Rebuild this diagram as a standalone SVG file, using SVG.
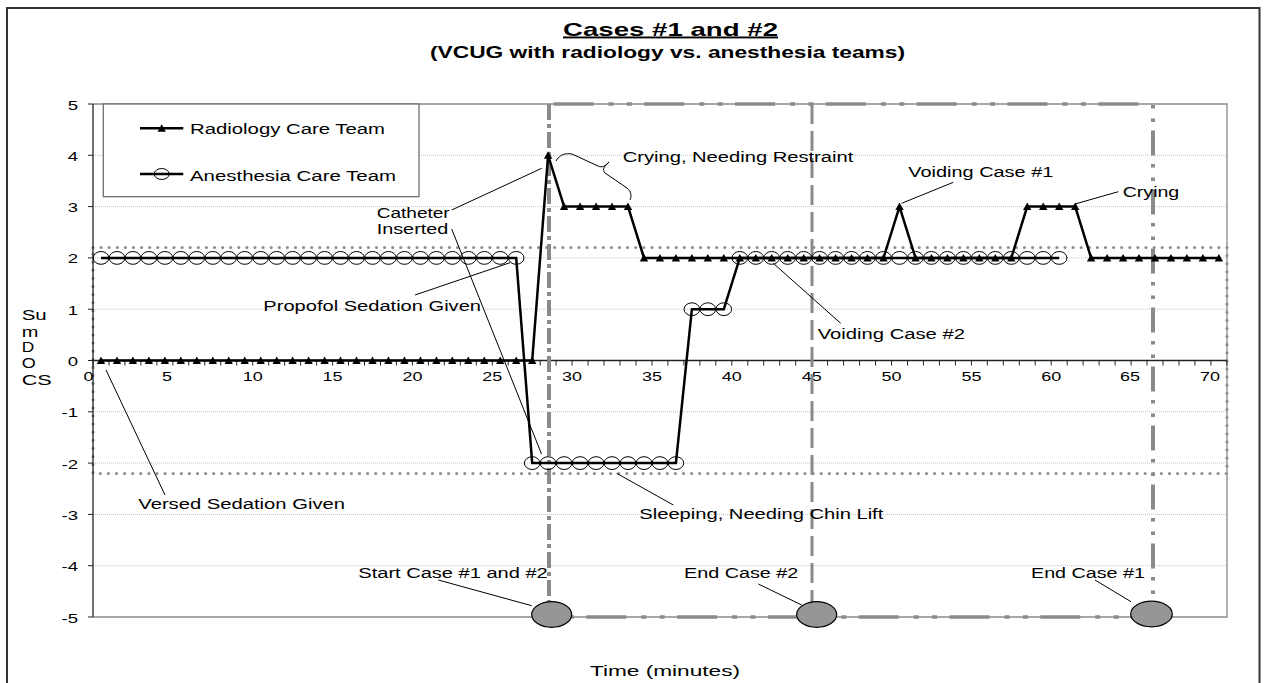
<svg xmlns="http://www.w3.org/2000/svg" width="1265" height="683" viewBox="0 0 1265 683">
<style>
text{font-family:"Liberation Sans",Arial,Helvetica,sans-serif;fill:#000}
.lbl{font-size:14px}
.tk{font-size:13px}
.grid{stroke:#c4c4c4;stroke-width:1;stroke-dasharray:1 1;fill:none}
.border{stroke:#8a8a8a;stroke-width:1.3;fill:none}
.axis{stroke:#222;stroke-width:1.3;fill:none}
.tick{stroke:#222;stroke-width:1}
.call{stroke:#000;stroke-width:1;fill:none}
.series{stroke:#000;stroke-width:2.5;fill:none;stroke-linejoin:miter}
.case{stroke:#8a8a8a;fill:none}
.marker-ell{fill:#969696;stroke:#000;stroke-width:1.2}
</style>
<defs>
<marker id="tri" viewBox="-5 -5 10 10" markerWidth="10" markerHeight="10" refX="0" refY="0" markerUnits="userSpaceOnUse" orient="0" overflow="visible"><path d="M0,-4 L4.2,3.5 L-4.2,3.5 Z" fill="#000"/></marker>
<marker id="circ" viewBox="-9 -9 18 18" markerWidth="18" markerHeight="18" refX="0" refY="0" markerUnits="userSpaceOnUse" orient="0" overflow="visible"><ellipse cx="0" cy="0" rx="7.8" ry="6.4" fill="none" stroke="#000" stroke-width="1"/></marker>
</defs>
<rect width="1265" height="683" fill="#fff"/>
<g id="frame"><rect x="7" y="8" width="1252.5" height="690" fill="none" stroke="#333" stroke-width="2"/></g>

<g id="title">
<text x="670.5" y="35.5" text-anchor="middle" font-size="19" font-weight="bold" text-decoration="underline" textLength="215" lengthAdjust="spacingAndGlyphs">Cases #1 and #2</text>
<text x="667.5" y="58" text-anchor="middle" font-size="16" font-weight="bold" textLength="475" lengthAdjust="spacingAndGlyphs">(VCUG with radiology vs. anesthesia teams)</text>
</g>

<g id="gridlines">
<line class="grid" x1="93" y1="155.3" x2="1227" y2="155.3"/>
<line class="grid" x1="93" y1="206.6" x2="1227" y2="206.6"/>
<line class="grid" x1="93" y1="257.9" x2="1227" y2="257.9"/>
<line class="grid" x1="93" y1="309.2" x2="1227" y2="309.2"/>
<line class="grid" x1="93" y1="411.8" x2="1227" y2="411.8"/>
<line class="grid" x1="93" y1="463.1" x2="1227" y2="463.1"/>
<line class="grid" x1="93" y1="514.4" x2="1227" y2="514.4"/>
<line class="grid" x1="93" y1="565.7" x2="1227" y2="565.7"/>
</g>

<g id="plot-border"><path class="border" d="M93,104 H1227 V617 H93"/></g>

<g id="dotted-band"><rect x="93" y="247.5" width="1134" height="226" fill="none" stroke="#8f8f8f" stroke-width="3.2" stroke-dasharray="0 8.1" stroke-linecap="round"/></g>

<g id="axes">
<line class="axis" x1="93" y1="104" x2="93" y2="617"/>
<line class="axis" x1="93" y1="360.5" x2="1227" y2="360.5"/>
<path class="tick" d="M88,104H93M88,155.3H93M88,206.6H93M88,257.9H93M88,309.2H93M88,360.5H93M88,411.8H93M88,463.1H93M88,514.4H93M88,565.7H93M88,617H93"/>
<path class="tick" d="M93,360.5v5M109,360.5v5M124.9,360.5v5M140.9,360.5v5M156.9,360.5v5M172.9,360.5v5M188.8,360.5v5M204.8,360.5v5M220.8,360.5v5M236.7,360.5v5M252.7,360.5v5M268.7,360.5v5M284.6,360.5v5M300.6,360.5v5M316.6,360.5v5M332.6,360.5v5M348.5,360.5v5M364.5,360.5v5M380.5,360.5v5M396.4,360.5v5M412.4,360.5v5M428.4,360.5v5M444.3,360.5v5M460.3,360.5v5M476.3,360.5v5M492.3,360.5v5M508.2,360.5v5M524.2,360.5v5M540.2,360.5v5M556.1,360.5v5M572.1,360.5v5M588.1,360.5v5M604,360.5v5M620,360.5v5M636,360.5v5M652,360.5v5M667.9,360.5v5M683.9,360.5v5M699.9,360.5v5M715.8,360.5v5M731.8,360.5v5M747.8,360.5v5M763.7,360.5v5M779.7,360.5v5M795.7,360.5v5M811.7,360.5v5M827.6,360.5v5M843.6,360.5v5M859.6,360.5v5M875.5,360.5v5M891.5,360.5v5M907.5,360.5v5M923.4,360.5v5M939.4,360.5v5M955.4,360.5v5M971.4,360.5v5M987.3,360.5v5M1003.3,360.5v5M1019.3,360.5v5M1035.2,360.5v5M1051.2,360.5v5M1067.2,360.5v5M1083.1,360.5v5M1099.1,360.5v5M1115.1,360.5v5M1131.1,360.5v5M1147,360.5v5M1163,360.5v5M1179,360.5v5M1194.9,360.5v5M1210.9,360.5v5M1226.9,360.5v5"/>
<g class="tk" text-anchor="end">
<text x="78" y="109.5" textLength="10.3" lengthAdjust="spacingAndGlyphs">5</text>
<text x="78" y="160.8" textLength="10.3" lengthAdjust="spacingAndGlyphs">4</text>
<text x="78" y="212.1" textLength="10.3" lengthAdjust="spacingAndGlyphs">3</text>
<text x="78" y="263.4" textLength="10.3" lengthAdjust="spacingAndGlyphs">2</text>
<text x="78" y="314.7" textLength="10.3" lengthAdjust="spacingAndGlyphs">1</text>
<text x="78" y="366" textLength="10.3" lengthAdjust="spacingAndGlyphs">0</text>
<text x="78" y="417.3" textLength="16.5" lengthAdjust="spacingAndGlyphs">-1</text>
<text x="78" y="468.6" textLength="16.5" lengthAdjust="spacingAndGlyphs">-2</text>
<text x="78" y="519.9" textLength="16.5" lengthAdjust="spacingAndGlyphs">-3</text>
<text x="78" y="571.2" textLength="16.5" lengthAdjust="spacingAndGlyphs">-4</text>
<text x="78" y="622.5" textLength="16.5" lengthAdjust="spacingAndGlyphs">-5</text>
</g>
<g class="tk" text-anchor="middle">
<text x="88.5" y="380.5" textLength="10" lengthAdjust="spacingAndGlyphs">0</text>
<text x="167" y="380.5" textLength="10" lengthAdjust="spacingAndGlyphs">5</text>
<text x="252.7" y="380.5" textLength="20" lengthAdjust="spacingAndGlyphs">10</text>
<text x="332.6" y="380.5" textLength="20" lengthAdjust="spacingAndGlyphs">15</text>
<text x="412.4" y="380.5" textLength="20" lengthAdjust="spacingAndGlyphs">20</text>
<text x="492.3" y="380.5" textLength="20" lengthAdjust="spacingAndGlyphs">25</text>
<text x="572.1" y="380.5" textLength="20" lengthAdjust="spacingAndGlyphs">30</text>
<text x="652" y="380.5" textLength="20" lengthAdjust="spacingAndGlyphs">35</text>
<text x="731.8" y="380.5" textLength="20" lengthAdjust="spacingAndGlyphs">40</text>
<text x="811.7" y="380.5" textLength="20" lengthAdjust="spacingAndGlyphs">45</text>
<text x="891.5" y="380.5" textLength="20" lengthAdjust="spacingAndGlyphs">50</text>
<text x="971.4" y="380.5" textLength="20" lengthAdjust="spacingAndGlyphs">55</text>
<text x="1051.2" y="380.5" textLength="20" lengthAdjust="spacingAndGlyphs">60</text>
<text x="1130" y="380.5" textLength="20" lengthAdjust="spacingAndGlyphs">65</text>
<text x="1210" y="380.5" textLength="20" lengthAdjust="spacingAndGlyphs">70</text>
</g>
<g class="lbl">
<text x="21.7" y="320" textLength="25" lengthAdjust="spacingAndGlyphs">Su</text>
<text x="21.7" y="336.5" textLength="16.7" lengthAdjust="spacingAndGlyphs">m</text>
<text x="21.7" y="352" textLength="12.5" lengthAdjust="spacingAndGlyphs">D</text>
<text x="21.7" y="368" textLength="14" lengthAdjust="spacingAndGlyphs">O</text>
<text x="21.7" y="384.5" textLength="30" lengthAdjust="spacingAndGlyphs">CS</text>
<text x="590" y="676" textLength="150" lengthAdjust="spacingAndGlyphs">Time (minutes)</text>
</g>
</g>

<g id="case-lines">
<line class="case" x1="549" y1="104" x2="549" y2="603" stroke-width="4" stroke-dasharray="16 4 4 4"/>
<line class="case" x1="549" y1="104" x2="1153" y2="104" stroke-width="3.5" stroke-dasharray="40 15 5 13.4 5 12.4" stroke-dashoffset="86.3"/>
<line class="case" x1="549" y1="617" x2="1153" y2="617" stroke-width="3.5" stroke-dasharray="40 15 5 13.4 5 12.4" stroke-dashoffset="53.5"/>
<line class="case" x1="1153" y1="104" x2="1153" y2="603" stroke-width="4" stroke-dasharray="25 8.5 3.5 10 3.5 8.5" stroke-dashoffset="32.5"/>
<line class="case" x1="812" y1="104" x2="812" y2="603" stroke-width="3" stroke-dasharray="20 7"/>
</g>

<g id="anesthesia-series">
<polyline class="series" marker-start="url(#circ)" marker-mid="url(#circ)" marker-end="url(#circ)" points="101,257.9 117,257.9 132.9,257.9 148.9,257.9 164.9,257.9 180.8,257.9 196.8,257.9 212.8,257.9 228.7,257.9 244.7,257.9 260.7,257.9 276.7,257.9 292.6,257.9 308.6,257.9 324.6,257.9 340.5,257.9 356.5,257.9 372.5,257.9 388.4,257.9 404.4,257.9 420.4,257.9 436.4,257.9 452.3,257.9 468.3,257.9 484.3,257.9 500.2,257.9 516.2,257.9 532.2,463.1 548.1,463.1 564.1,463.1 580.1,463.1 596.1,463.1 612,463.1 628,463.1 644,463.1 659.9,463.1 675.9,463.1 691.9,309.2 707.8,309.2 723.8,309.2 739.8,257.9 755.8,257.9 771.7,257.9 787.7,257.9 803.7,257.9 819.6,257.9 835.6,257.9 851.6,257.9 867.5,257.9 883.5,257.9 899.5,257.9 915.5,257.9 931.4,257.9 947.4,257.9 963.4,257.9 979.3,257.9 995.3,257.9 1011.3,257.9 1027.2,257.9 1043.2,257.9 1059.2,257.9"/>
</g>

<g id="radiology-series">
<polyline class="series" marker-start="url(#tri)" marker-mid="url(#tri)" marker-end="url(#tri)" points="101,360.5 117,360.5 132.9,360.5 148.9,360.5 164.9,360.5 180.8,360.5 196.8,360.5 212.8,360.5 228.7,360.5 244.7,360.5 260.7,360.5 276.7,360.5 292.6,360.5 308.6,360.5 324.6,360.5 340.5,360.5 356.5,360.5 372.5,360.5 388.4,360.5 404.4,360.5 420.4,360.5 436.4,360.5 452.3,360.5 468.3,360.5 484.3,360.5 500.2,360.5 516.2,360.5 532.2,360.5 548.1,155.3 564.1,206.6 580.1,206.6 596.1,206.6 612,206.6 628,206.6 644,257.9 659.9,257.9 675.9,257.9 691.9,257.9 707.8,257.9 723.8,257.9 739.8,257.9 755.8,257.9 771.7,257.9 787.7,257.9 803.7,257.9 819.6,257.9 835.6,257.9 851.6,257.9 867.5,257.9 883.5,257.9 899.5,206.6 915.5,257.9 931.4,257.9 947.4,257.9 963.4,257.9 979.3,257.9 995.3,257.9 1011.3,257.9 1027.2,206.6 1043.2,206.6 1059.2,206.6 1075.2,206.6 1091.1,257.9 1107.1,257.9 1123.1,257.9 1139,257.9 1155,257.9 1171,257.9 1186.9,257.9 1202.9,257.9 1218.9,257.9"/>
</g>

<g id="legend">
<rect x="103.3" y="104" width="315.7" height="92.7" fill="#fff" stroke="#707070" stroke-width="1.3"/>
<line class="series" x1="140" y1="128.3" x2="183.3" y2="128.3" marker-mid="url(#tri)"/>
<path d="M161.7,124.3 L165.9,131.8 L157.5,131.8 Z" fill="#000"/>
<line class="series" x1="140" y1="174" x2="183.3" y2="174"/>
<ellipse cx="161.7" cy="174" rx="7.5" ry="5.5" fill="none" stroke="#000" stroke-width="1"/>
<text class="lbl" x="190" y="134" textLength="195" lengthAdjust="spacingAndGlyphs">Radiology Care Team</text>
<text class="lbl" x="190" y="180.5" textLength="206" lengthAdjust="spacingAndGlyphs">Anesthesia Care Team</text>
</g>

<g id="connectors">
<path class="call" d="M556,161 C560,154 566,153 572,154 L598,166 C602,168 606,166 609,162 M609,162 C604,166 602,170 605,173 L627,188 C631,191 632,196 630,200"/>
<line class="call" x1="451.7" y1="210" x2="541.7" y2="168.3"/>
<line class="call" x1="451.7" y1="229" x2="541.5" y2="454"/>
<line class="call" x1="415" y1="295" x2="510" y2="262.7"/>
<line class="call" x1="106" y1="370" x2="165" y2="495"/>
<line class="call" x1="616.7" y1="473.3" x2="673.3" y2="505"/>
<line class="call" x1="773.3" y1="263.3" x2="840.7" y2="323.3"/>
<line class="call" x1="901.7" y1="203.3" x2="953.3" y2="182.3"/>
<line class="call" x1="1075" y1="204" x2="1118.3" y2="191.7"/>
<line class="call" x1="438.3" y1="580" x2="531.7" y2="605.7"/>
<line class="call" x1="758.3" y1="584" x2="801.7" y2="605"/>
<line class="call" x1="1095" y1="580" x2="1131" y2="601.7"/>
</g>

<g id="case-markers">
<ellipse class="marker-ell" cx="551.7" cy="614.5" rx="20" ry="12.8"/>
<ellipse class="marker-ell" cx="816.7" cy="614.5" rx="20" ry="12.8"/>
<ellipse class="marker-ell" cx="1151.5" cy="614" rx="20.8" ry="12.8"/>
</g>

<g id="annotations" class="lbl">
<text x="622.7" y="162" textLength="230.6" lengthAdjust="spacingAndGlyphs">Crying, Needing Restraint</text>
<text x="376.7" y="218" textLength="73" lengthAdjust="spacingAndGlyphs">Catheter</text>
<text x="376.7" y="233.5" textLength="71.6" lengthAdjust="spacingAndGlyphs">Inserted</text>
<text x="263.3" y="311" textLength="217.7" lengthAdjust="spacingAndGlyphs">Propofol Sedation Given</text>
<text x="138.3" y="509" textLength="206.7" lengthAdjust="spacingAndGlyphs">Versed Sedation Given</text>
<text x="639.3" y="519" textLength="244" lengthAdjust="spacingAndGlyphs">Sleeping, Needing Chin Lift</text>
<text x="817.7" y="339" textLength="147.3" lengthAdjust="spacingAndGlyphs">Voiding Case #2</text>
<text x="908.3" y="177" textLength="145" lengthAdjust="spacingAndGlyphs">Voiding Case #1</text>
<text x="1122.7" y="197" textLength="56.6" lengthAdjust="spacingAndGlyphs">Crying</text>
<text x="358.3" y="578.3" textLength="189.4" lengthAdjust="spacingAndGlyphs">Start Case #1 and #2</text>
<text x="684" y="578" textLength="114.3" lengthAdjust="spacingAndGlyphs">End Case #2</text>
<text x="1031" y="578" textLength="114" lengthAdjust="spacingAndGlyphs">End Case #1</text>
</g>
</svg>
